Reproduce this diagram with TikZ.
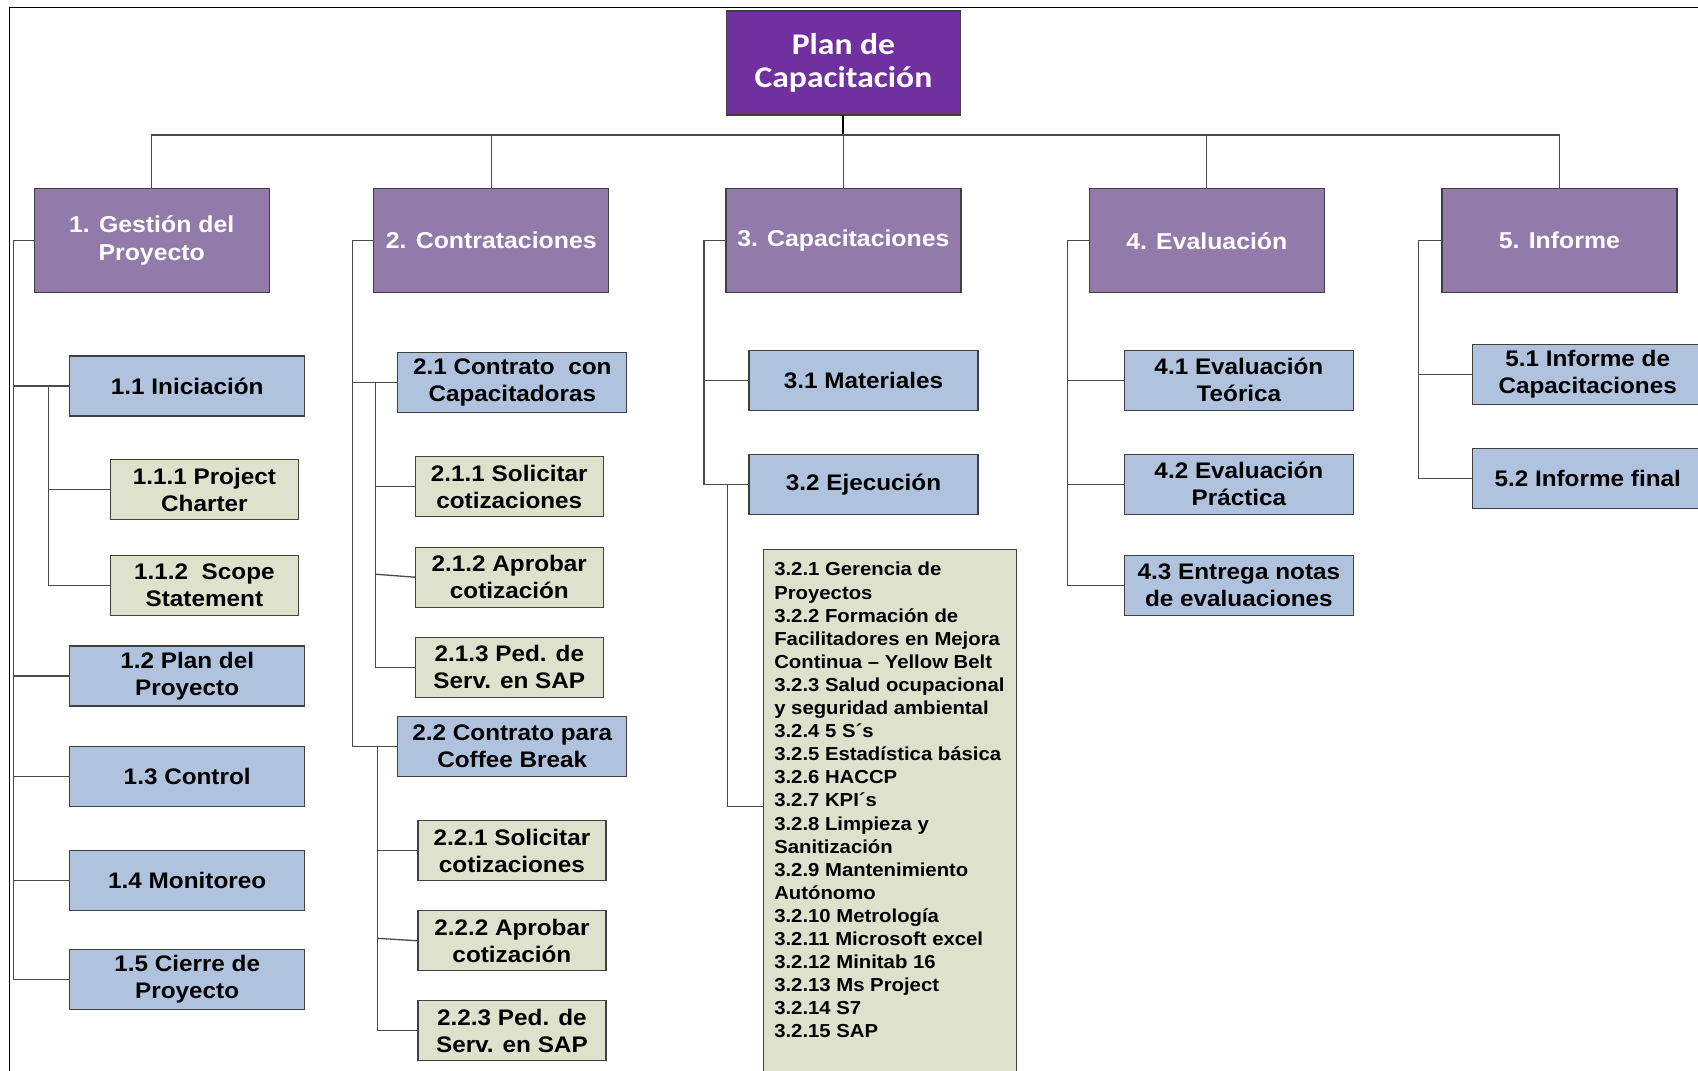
\documentclass[tikz,border=0pt]{standalone}
\usepackage{fontspec}
\setmainfont{Liberation Sans}
\newfontfamily\wbsfont[FakeStretch=1.08]{Liberation Sans}
\newfontfamily\rootfont[FakeStretch=1.12]{Carlito}
\usetikzlibrary{calc}
\definecolor{rootc}{HTML}{7030A0}
\definecolor{lonec}{HTML}{927BAB}
\definecolor{ltwoc}{HTML}{B0C3DE}
\definecolor{lthreec}{HTML}{DEE2CC}
\definecolor{edgec}{HTML}{404040}
\definecolor{linec}{HTML}{4A4A4A}
\tikzset{
  wbs/.style={draw=edgec, line width=1.3pt, inner sep=2pt, outer sep=0pt, align=center},
  rootbox/.style={wbs, fill=rootc, text=white, minimum width=234pt, minimum height=104pt,
    font=\rootfont\bfseries\fontsize{30}{32.6}\selectfont},
  lone/.style={wbs, fill=lonec, text=white, minimum width=235pt, minimum height=104pt,
    font=\wbsfont\bfseries\fontsize{23}{28}\selectfont},
  ltwo/.style={wbs, fill=ltwoc, text=black, minimum width=229pt, minimum height=60pt,
    font=\wbsfont\bfseries\fontsize{22.5}{27}\selectfont},
  lthree/.style={wbs, fill=lthreec, text=black, minimum width=188pt, minimum height=60pt,
    font=\wbsfont\bfseries\fontsize{22.5}{27}\selectfont},
  listbox/.style={draw=edgec, line width=1.3pt, fill=lthreec, inner sep=0pt, outer sep=0pt,
    font=\wbsfont\bfseries\fontsize{18.8}{23.1}\selectfont},
  conn/.style={draw=linec, line width=1.3pt},
}
\begin{document}
\begin{tikzpicture}[x=1pt,y=-1pt]
\useasboundingbox (0,0) rectangle (1698,1071);
\clip (0,0) rectangle (1698,1071);
\fill[white] (0,0) rectangle (1698,1071);
% frame
\draw[black, line width=1.6pt] (9.5,1075) -- (9.5,7.3) -- (1700,7.3);

% root and level 1
\node[rootbox] (root) at (843.4,62.9) {Plan de\\Capacitación};
\node[lone] (g1) at (151.7,240.7) {1. Gestión del\\Proyecto};
\node[lone] (g2) at (491.3,240.7) {2. Contrataciones};
\node[lone] (g3) at (843.4,240.7) {3. Capacitaciones};
\node[lone] (g4) at (1206.8,240.7) {4. Evaluación};
\node[lone] (g5) at (1559.4,240.7) {5. Informe};

% column 1
\node[ltwo, minimum width=235pt] (n11) at (187.2,385.9) {1.1 Iniciación};
\node[lthree] (n111) at (204.4,489.7) {1.1.1 Project\\Charter};
\node[lthree] (n112) at (204.4,585.3) {1.1.2~ Scope\\Statement};
\node[ltwo, minimum width=235pt] (n12) at (187.2,675.9) {1.2 Plan del\\Proyecto};
\node[ltwo, minimum width=235pt] (n13) at (187.2,776.7) {1.3 Control};
\node[ltwo, minimum width=235pt] (n14) at (187.2,880.7) {1.4 Monitoreo};
\node[ltwo, minimum width=235pt] (n15) at (187.2,979.3) {1.5 Cierre de\\Proyecto};

% column 2
\node[ltwo] (n21) at (512.3,382.7) {2.1 Contrato~ con\\Capacitadoras};
\node[lthree] (n211) at (509.3,486.7) {2.1.1 Solicitar\\cotizaciones};
\node[lthree] (n212) at (509.3,577.2) {2.1.2 Aprobar\\cotización};
\node[lthree] (n213) at (509.3,667.3) {2.1.3 Ped. de\\Serv. en SAP};
\node[ltwo] (n22) at (512.3,746.3) {2.2 Contrato para\\Coffee Break};
\node[lthree] (n221) at (511.9,850.7) {2.2.1 Solicitar\\cotizaciones};
\node[lthree] (n222) at (511.9,940.8) {2.2.2 Aprobar\\cotización};
\node[lthree] (n223) at (511.9,1030.8) {2.2.3 Ped. de\\Serv. en SAP};

% column 3
\node[ltwo] (n31) at (863.5,380.3) {3.1 Materiales};
\node[ltwo] (n32) at (863.5,484.2) {3.2 Ejecución};
\node[listbox, anchor=north west] (t32) at (763.3,549.3) {\parbox[t][560pt][t]{253pt}{%
\leftskip=11pt\rightskip=0pt plus 1fil\parindent=0pt
\vspace*{13pt}%
3.2.1 Gerencia de\\
Proyectos\\
3.2.2 Formación de\\
Facilitadores en Mejora\\
Continua – Yellow Belt\\
3.2.3 Salud ocupacional\\
y seguridad ambiental\\
3.2.4 5 S´s\\
3.2.5 Estadística básica\\
3.2.6 HACCP\\
3.2.7 KPI´s\\
3.2.8 Limpieza y\\
Sanitización\\
3.2.9 Mantenimiento\\
Autónomo\\
3.2.10 Metrología\\
3.2.11 Microsoft excel\\
3.2.12 Minitab 16\\
3.2.13 Ms Project\\
3.2.14 S7\\
3.2.15 SAP}};

% column 4
\node[ltwo] (n41) at (1238.9,380.3) {4.1 Evaluación\\Teórica};
\node[ltwo] (n42) at (1238.9,484.2) {4.2 Evaluación\\Práctica};
\node[ltwo] (n43) at (1238.9,585.3) {4.3 Entrega notas\\de evaluaciones};

% column 5
\node[ltwo, minimum width=231pt] (n51) at (1587.7,374.5) {5.1 Informe de\\Capacitaciones};
\node[ltwo, minimum width=231pt] (n52) at (1587.7,478.7) {5.2 Informe final};

% connectors: top level
\coordinate (bus) at (843.4,135);
\draw[black, line width=2pt] (root.south) -- (bus);
\foreach \n in {g1,g2,g3,g4,g5} \draw[conn] (\n.north) |- (bus);

% spine coordinates
\coordinate (s1) at (13.4,0);
\coordinate (s11) at (48.5,0);
\coordinate (s2) at (352.8,0);
\coordinate (s21) at (375.2,0);
\coordinate (s22) at (377.3,0);
\coordinate (s3) at (704,0);
\coordinate (s32) at (727.7,0);
\coordinate (j32) at (0,806.7);
\coordinate (s4) at (1067.3,0);
\coordinate (s5) at (1418.6,0);

% column 1
\draw[conn] (g1.west) -| (s1 |- n15.west) -- (n15.west);
\foreach \n in {n11,n12,n13,n14} \draw[conn] (s1 |- \n.west) -- (\n.west);
\draw[conn] (n11.west) -| (s11 |- n112.west) -- (n112.west);
\draw[conn] (s11 |- n111.west) -- (n111.west);

% column 2
\draw[conn] (g2.west) -| (s2 |- n22.west) -- (n22.west);
\draw[conn] (s2 |- n21.west) -- (n21.west);
\draw[conn] (n21.west) -| (s21 |- n213.west) -- (n213.west);
\draw[conn] (s21 |- n211.west) -- (n211.west);
\draw[conn] ($(s21 |- n212.west)+(0,-3)$) -- (n212.west);
\draw[conn] (n22.west) -| (s22 |- n223.west) -- (n223.west);
\draw[conn] (s22 |- n221.west) -- (n221.west);
\draw[conn] ($(s22 |- n222.west)+(0,-2.5)$) -- (n222.west);

% column 3
\draw[conn] (g3.west) -| (s3 |- n32.west) -- (n32.west);
\draw[conn] (s3 |- n31.west) -- (n31.west);
\draw[conn] (n32.west) -| (s32 |- j32) -- (t32.west |- j32);

% column 4
\draw[conn] (g4.west) -| (s4 |- n43.west) -- (n43.west);
\foreach \n in {n41,n42} \draw[conn] (s4 |- \n.west) -- (\n.west);

% column 5
\draw[conn] (g5.west) -| (s5 |- n52.west) -- (n52.west);
\draw[conn] (s5 |- n51.west) -- (n51.west);
\end{tikzpicture}
\end{document}
